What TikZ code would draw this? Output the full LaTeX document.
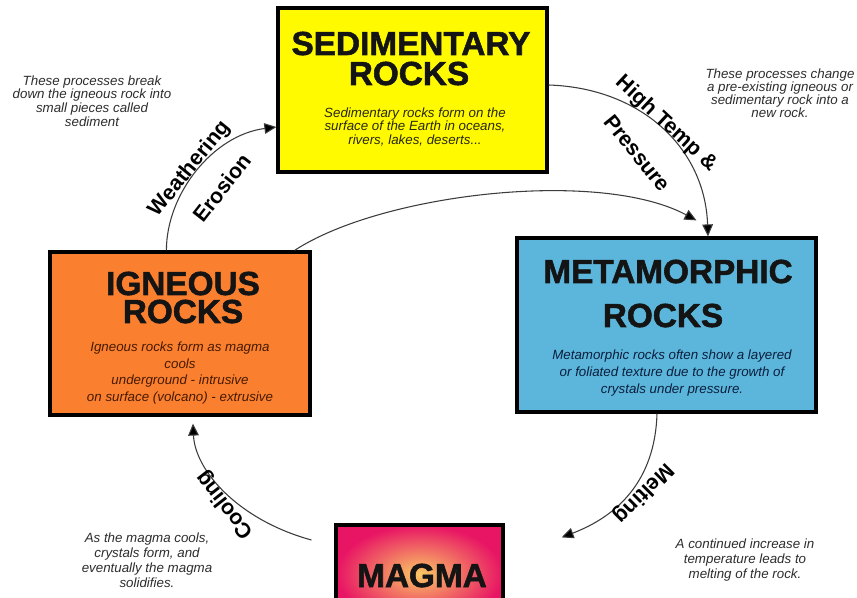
\documentclass[tikz,border=0pt]{standalone}
\usepackage{fontspec}
\setmainfont{Liberation Sans}
\newfontfamily\heavy{Liberation Sans}[BoldFeatures={FakeBold=1.6}]
\usetikzlibrary{arrows.meta,calc}

\definecolor{sedY}{RGB}{255,250,0}
\definecolor{ignO}{RGB}{250,128,48}
\definecolor{metB}{RGB}{92,182,220}
\definecolor{magOut}{RGB}{232,20,100}
\definecolor{magIn}{RGB}{250,200,100}
\definecolor{lineC}{RGB}{60,60,60}
\definecolor{noteC}{RGB}{45,45,45}
\definecolor{sedTxt}{RGB}{40,40,15}
\definecolor{ignTxt}{RGB}{70,25,0}
\definecolor{metTxt}{RGB}{10,30,60}

\begin{document}
\begin{tikzpicture}[x=0.75pt,y=-0.75pt,
  rockbox/.style={draw=black, line width=2.4pt, inner sep=0pt, rectangle},
  title/.style={font=\heavy\bfseries\fontsize{25}{25}\selectfont, anchor=base, inner sep=0pt, text=black!92},
  desc/.style={font=\itshape\fontsize{10}{#1}\selectfont, align=center, inner sep=0pt},
  note/.style={font=\itshape\fontsize{10}{#1}\selectfont, align=center, inner sep=0pt, text=noteC},
  proc/.style={font=\bfseries\fontsize{16}{16}\selectfont, inner sep=0pt},
  flow/.style={draw=lineC, line width=0.8pt, -{Triangle[length=9pt,width=8pt,fill=black]}},
]
\useasboundingbox (0,0) rectangle (857,598);
\fill[white] (0,0) rectangle (857,598);
\clip (0,0) rectangle (857,598);

% boxes
\node[rockbox, fill=sedY, minimum width=201.75pt, minimum height=123pt] (sed) at (412.5,90) {};
\node[rockbox, fill=ignO, minimum width=195pt, minimum height=122.25pt] (ign) at (180,333.5) {};
\node[rockbox, fill=metB, minimum width=224.25pt, minimum height=130.5pt] (met) at (666.5,325) {};
\node[rockbox, inner color=magIn, outer color=magOut, minimum width=125.25pt, minimum height=73.5pt] (mag) at (419.5,574) {};

% titles
\node[title] (sedT1) at (411,55) {SEDIMENTARY};
\node[title] (sedT2) at (409,85) {ROCKS};
\node[title] (ignT1) at (183,295) {IGNEOUS};
\node[title] (ignT2) at (183,323) {ROCKS};
\node[title] (metT1) at (668,283) {METAMORPHIC};
\node[title] (metT2) at (663,327) {ROCKS};
\node[title] (magT) at (422,587) {MAGMA};

% descriptions
\node[desc=10.2pt, text=sedTxt] (sedD) at (415,127) {Sedimentary rocks form on the\\surface of the Earth in oceans,\\rivers, lakes, deserts...};
\node[desc=12.5pt, text=ignTxt] (ignD) at (180,373) {Igneous rocks form as magma\\cools\\underground - intrusive\\on surface (volcano) - extrusive};
\node[desc=12.5pt, text=metTxt] (metD) at (672,373) {Metamorphic rocks often show a layered\\or foliated texture due to the growth of\\crystals under pressure.};

% notes
\node[note=10.2pt] (noteTL) at (92,101) {These processes break\\down the igneous rock into\\small pieces called\\sediment};
\node[note=9.8pt] (noteTR) at (780,93) {These processes change\\a pre-existing igneous or\\sedimentary rock into a\\new rock.};
\node[note=11.2pt] (noteBL) at (147,560) {As the magma cools,\\crystals form, and\\eventually the magma\\solidifies.};
\node[note=11.5pt] (noteBR) at (745,560) {A continued increase in\\temperature leads to\\melting of the rock.};

% connectors
\draw[flow] ($(ign.north west)+(118,0)$) .. controls +(0,-57) and +(-63,8) .. ($(sed.west)+(0,37)$);
\draw[flow] ($(sed.east)+(0,-5)$) .. controls +(93,3) and +(-3,-88) .. ($(met.north)+(41.5,0)$);
\coordinate (imEnd) at ($(met.north)+(30,-16)$);
\draw[flow] ($(ign.north east)+(-17,0)$) .. controls +(87,-57) and +(-97,-52) .. (imEnd);
\coordinate (meltEnd) at ($(mag.north east)+(57,14)$);
\draw[flow] ($(met.south)+(-9.5,0)$) .. controls +(-2,68) and +(55,-21) .. (meltEnd);
\coordinate (coolStart) at ($(mag.west)+(-23,-34)$);
\coordinate (coolEnd) at ($(ign.south)+(13,7)$);
\draw[flow] (coolStart) .. controls +(-73,-20) and +(2,47) .. (coolEnd);

% process labels
\node[proc, rotate=51] (weath) at (190,169) {Weathering};
\node[proc, rotate=52] (eros) at (222,188) {Erosion};
\node[proc, rotate=-43] (htemp) at (666,124) {High Temp \&};
\node[proc, rotate=-51] (press) at (637,153) {Pressure};
\node[proc, rotate=-135] (melt) at (643,493) {Melting};
\node[proc, rotate=128] (cool) at (225,505) {Cooling};
\end{tikzpicture}
\end{document}
